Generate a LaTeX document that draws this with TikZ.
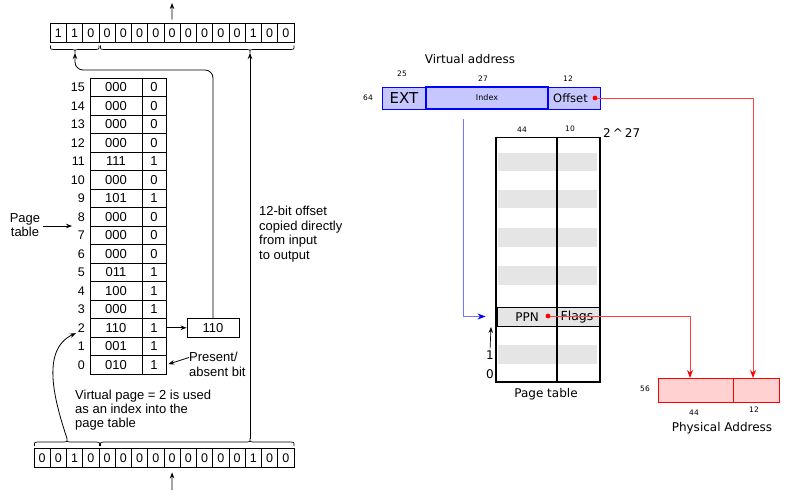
\documentclass[tikz,border=0pt]{standalone}
\usepackage{fontspec}
\setmainfont{Liberation Sans}
\newfontfamily\dv{DejaVu Sans}
\usetikzlibrary{arrows.meta}
\newcommand{\fs}[1]{\fontsize{#1}{#1}\selectfont}
% brace under/over a bit row: x1, tip, x2, edge y, direction, tip name
\newcommand{\bitbrace}[6]{%
  \draw[line width=0.7pt] ({#1},{#4}) .. controls ({#1},{#4+(#5)*4}) .. ({#1+3},{#4+(#5)*4})
    -- ({#2-3},{#4+(#5)*4}) .. controls ({#2},{#4+(#5)*4}) .. ({#2},{#4+(#5)*7.5})
    .. controls ({#2},{#4+(#5)*4}) .. ({#2+3},{#4+(#5)*4})
    -- ({#3-3},{#4+(#5)*4}) .. controls ({#3},{#4+(#5)*4}) .. ({#3},{#4});
  \coordinate (#6) at ({#2},{#4+(#5)*7.5});}

\begin{document}
\begin{tikzpicture}[x=1pt,y=-1pt,
  bit/.style={draw,line width=0.8pt,minimum width=16.25pt,minimum height=18.5pt,inner sep=0pt,font=\fs{12.5}},
  cell/.style={draw,line width=0.9pt,minimum height=18.5pt,inner sep=0pt,font=\fs{13}},
  lbl/.style={font=\fontsize{13}{14.5}\selectfont,inner sep=0pt},
  arr/.style={-{Stealth[length=6pt,width=4.5pt]},line width=0.8pt},
  va/.style={draw=blue,fill=blue!22,line width=0.8pt,minimum height=22pt,inner sep=0pt},
  pa/.style={draw=red,fill=red!18,line width=0.8pt,minimum height=24pt,inner sep=0pt},
  tiny/.style={font=\dv\fs{7.5},inner sep=0pt},
  rt/.style={font=\dv\fs{12},inner sep=0pt},
  redline/.style={red!75,line width=0.9pt,-{Stealth[length=8pt,width=6pt,color=red]}}]
 \useasboundingbox (0,0) rectangle (792,497);

 % ---- left: 16-bit example ----
 \foreach \b [count=\i] in {1,1,0,0,0,0,0,0,0,0,0,0,1,0,0}
   \node[bit] (t\i) at ({50.25+16.25*(\i-0.5)},33) {\b};
 \foreach \b [count=\i] in {0,0,1,0,0,0,0,0,0,0,0,0,0,1,0,0}
   \node[bit] (b\i) at ({34+16.25*(\i-0.5)},457.75) {\b};
 \bitbrace{50.5}{75}{99}{45.5}{1}{ta}
 \bitbrace{100.5}{250}{294}{45.5}{1}{tb}
 \bitbrace{34.5}{67}{99.5}{446}{-1}{ba}
 \bitbrace{100.5}{250}{294}{446}{-1}{bb}
 \coordinate (tout) at (172,3);
 \coordinate (bin) at (172,490);
 \draw[arr,shorten <=4pt] (t8.north) -- (tout);
 \draw[arr,shorten >=5pt] (bin) -- (b9.south);

 \foreach \n/\f/\p in {0/010/1,1/001/1,2/110/1,3/000/1,4/100/1,5/011/1,6/000/0,7/000/0,
                       8/000/0,9/101/1,10/000/0,11/111/1,12/000/0,13/000/0,14/000/0,15/000/0} {
   \node[cell,minimum width=52pt] (f\n) at (116,{374-18.5*(\n+0.5)}) {\f};
   \node[cell,minimum width=24pt] (p\n) at (154,{374-18.5*(\n+0.5)}) {\p};
   \node[lbl,font=\fs{12.5},anchor=east] (n\n) at (85,{374-18.5*(\n+0.5)}) {\n};
 }
 \node[cell,minimum width=52pt,minimum height=19pt] (fr) at (213,327.75) {110};
 \draw[arr] (p2.east) -- (fr.west);
 \draw[arr,rounded corners=8pt] (fr.north) |- ([yshift=-17pt]ta) -- (ta);
 \draw[arr] (bb) -- (tb);
 \draw[arr,shorten >=2pt] (ba) .. controls (55,402) and (40,350) .. (n2.south west);

 \node[lbl,align=center] (ptl) at (25,225) {Page\\table};
 \coordinate (pt) at (72,226);
 \draw[arr,shorten <=3pt] (ptl.east |- pt) -- (pt);
 \node[lbl,align=left,anchor=west,font=\fontsize{13}{15}\selectfont] (pab) at (189,364.5) {Present/\\absent bit};
 \draw[arr,shorten >=2pt] ([yshift=7pt]pab.west) -- (p0.east);
 \node[lbl,align=left,anchor=north west] (cp) at (259,206)
   {12-bit offset\\copied directly\\from input\\to output};
 \node[lbl,align=left,anchor=north west,font=\fontsize{13}{14}\selectfont] (vp) at (75,390)
   {Virtual page = 2 is used\\as an index into the\\page table};

 % ---- right: 64-bit virtual address ----
 \node[font=\dv\fs{12},inner sep=0pt] (vat) at (470,59) {Virtual address};
 \node[va,minimum width=44pt,font=\dv\fs{15}] (ext) at (404,98) {EXT};
 \node[va,minimum width=122pt,line width=1.3pt,font=\dv\fs{8}] (idx) at (487,98) {Index};
 \node[va,minimum width=52pt] (off) at (574,98) {};
 \node[font=\dv\fs{11.5},inner sep=0pt] (offt) at (570.5,98) {Offset};
 \node[tiny] (w64) at (368,98) {64};
 \node[tiny] (w25) at (402,74) {25};
 \node[tiny] (w27) at (483,79) {27};
 \node[tiny] (w12) at (568,79) {12};

 \foreach \y in {153,190,228,266,345}
   \fill[gray!20] (498,\y) rectangle (597,\y+18.5);
 \node[draw,fill=gray!20,line width=0.9pt,minimum width=102pt,minimum height=19pt,inner sep=0pt]
   (ppn) at (548,316.5) {};
 \draw[line width=0.6pt] (496,137) -- (600,137);
 \draw[line width=1.3pt] (496,137) -- (496,382) -- (600,382) -- (600,137);
 \draw[line width=1.3pt] (557,137) -- (557,382);
 \node[tiny] (w44) at (522,130) {44};
 \node[tiny] (w10) at (570,129) {10};
 \node[font=\dv\fs{12},inner sep=0pt,anchor=west] (n27) at (603,133) {2\,\textasciicircum\,27};
 \node[rt] (ppnt) at (527,317) {PPN};
 \node[rt,font=\dv\fs{12.5}] (flg) at (577,317) {Flags};
 \node[rt] (r1) at (490,355) {1};
 \node[rt] (r0) at (490,374) {0};
 \coordinate (rup) at (491,327);
 \draw[arr,line width=0.7pt,shorten <=2pt] (r1.north) -- (rup);
 \node[rt] (ptt) at (546,394) {Page table};

 \node[pa,minimum width=75pt] (pl) at (695.5,390) {};
 \node[pa,minimum width=46pt] (pr) at (756,390) {};
 \node[tiny] (w56) at (645,389) {56};
 \node[tiny] (p44) at (694,413) {44};
 \node[tiny] (p12) at (754,410) {12};
 \node[font=\dv\fs{12},inner sep=0pt] (phy) at (722,428) {Physical Address};

 \coordinate (ix) at (463,119);
 \draw[blue!55,line width=1pt,-{Stealth[length=8pt,width=6pt,color=blue]},shorten >=11pt] (ix) |- (ppn.west);
 \coordinate (od) at (595,98);
 \coordinate (pd) at (548,316);
 \coordinate (oin) at (753,378);
 \coordinate (pin) at (690,378);
 \draw[redline] (pd) -| (pin);
 \draw[redline] (od) -| (oin);
 \fill[red] (od) circle (2.4);
 \fill[red] (pd) circle (2.4);
\end{tikzpicture}
\end{document}
